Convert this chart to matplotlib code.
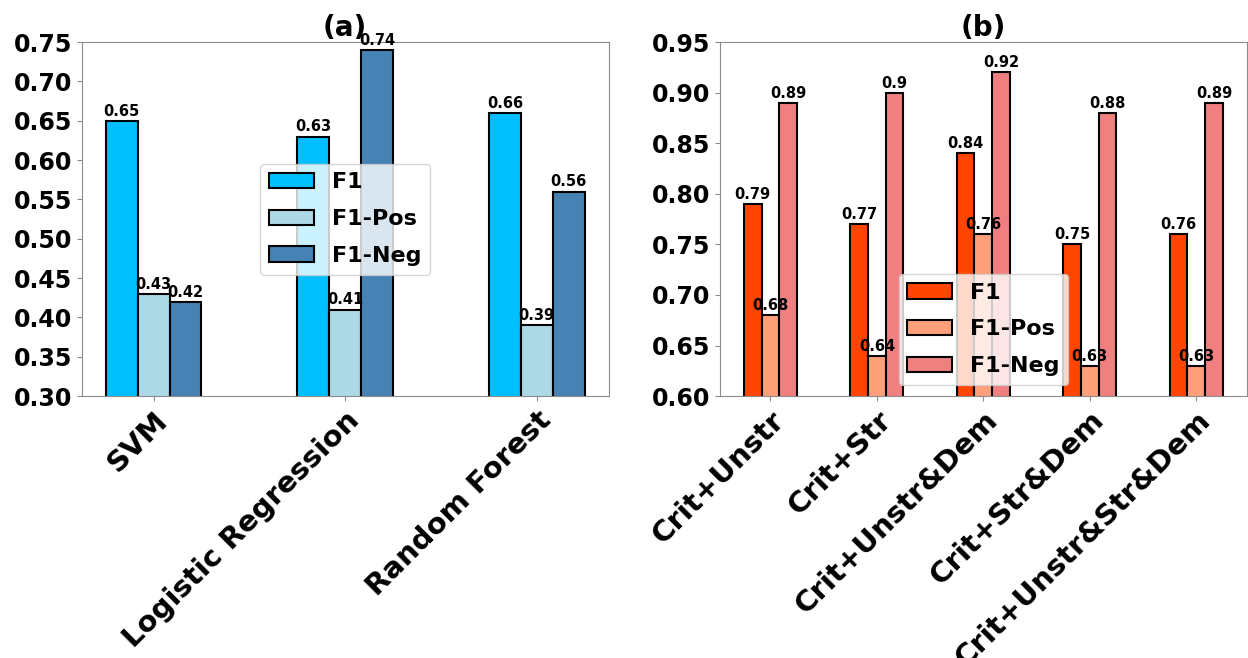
import numpy as np
import matplotlib
matplotlib.use("Agg")
import matplotlib.pyplot as plt
from matplotlib.ticker import FormatStrFormatter

plt.rcParams["font.family"] = "DejaVu Sans"
plt.rcParams["font.weight"] = "bold"

# (a) classic models
models = ["SVM", "Logistic Regression", "Random Forest"]
a_f1 = [0.65, 0.63, 0.66]
a_pos = [0.43, 0.41, 0.39]
a_neg = [0.42, 0.74, 0.56]

# (b) feature combinations
combos = ["Crit+Unstr", "Crit+Str", "Crit+Unstr&Dem", "Crit+Str&Dem", "Crit+Unstr&Str&Dem"]
b_f1 = [0.79, 0.77, 0.84, 0.75, 0.76]
b_pos = [0.68, 0.64, 0.76, 0.63, 0.63]
b_neg = [0.89, 0.90, 0.92, 0.88, 0.89]

series_names = ["F1", "F1-Pos", "F1-Neg"]
blue_colors = ["deepskyblue", "lightblue", "steelblue"]
red_colors = ["orangered", "lightsalmon", "lightcoral"]


def grouped_bars(ax, labels, series, colors, ylim, yticks, title, legend_loc):
    x = np.arange(len(labels))
    w = 0.5 / len(series)
    for i, (vals, name, col) in enumerate(zip(series, series_names, colors)):
        pos = x + (i - 1) * w
        bars = ax.bar(pos, vals, width=w, color=col, edgecolor="black",
                      linewidth=1.5, label=name)
        for b, v in zip(bars, vals):
            ax.annotate(f"{v:g}", (b.get_x() + b.get_width() / 2, v),
                        xytext=(0, 1.5), textcoords="offset points",
                        ha="center", va="bottom", fontsize=10.5, fontweight="bold")
    ax.set_ylim(*ylim)
    ax.set_yticks(yticks)
    ax.yaxis.set_major_formatter(FormatStrFormatter("%.2f"))
    ax.set_xticks(x)
    ax.set_xticklabels(labels, rotation=45, ha="right", rotation_mode="anchor",
                       fontsize=21, fontweight="bold")
    ax.tick_params(axis="y", labelsize=17)
    for t in ax.get_yticklabels():
        t.set_fontweight("bold")
    for s in ax.spines.values():
        s.set_color("0.55")
    ax.tick_params(color="0.55")
    ax.set_title(title, fontsize=20, fontweight="bold", pad=4)
    ax.legend(loc=legend_loc, prop={"size": 16, "weight": "bold"}, labelspacing=0.75)


fig, (ax1, ax2) = plt.subplots(1, 2, figsize=(12.48, 6.58), dpi=100)
fig.subplots_adjust(left=0.0655, right=0.999, top=0.936, bottom=0.398, wspace=0.211)

grouped_bars(ax1, models, [a_f1, a_pos, a_neg], blue_colors, (0.30, 0.75),
             np.arange(0.30, 0.751, 0.05), "(a)", "center")
grouped_bars(ax2, combos, [b_f1, b_pos, b_neg], red_colors, (0.60, 0.95),
             np.arange(0.60, 0.951, 0.05), "(b)", "lower center")

fig.savefig("out.png", dpi=100)
